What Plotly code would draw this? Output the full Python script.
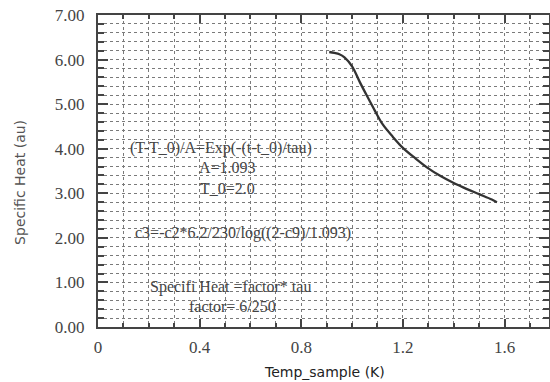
import plotly.graph_objects as go

temp_k = [0.91, 0.93, 0.95, 0.97, 1.00, 1.03, 1.06, 1.09, 1.12, 1.16, 1.20,
          1.25, 1.30, 1.35, 1.40, 1.45, 1.50, 1.55, 1.57]
specific_heat = [6.17, 6.15, 6.12, 6.05, 5.85, 5.50, 5.17, 4.85, 4.55, 4.27, 4.02,
                 3.78, 3.56, 3.38, 3.23, 3.10, 2.98, 2.86, 2.80]

note_texts = ["(T-T_0)/A=Exp(-(t-t_0)/tau)", "A=1.093", "T_0=2.0",
              "c3=-c2*6.2/230/log((2-c9)/1.093)", "Specifi Heat =factor* tau",
              "factor= 6/250"]
note_x = [0.486, 0.508, 0.51, 0.571, 0.52, 0.528]
note_y = [4.02, 3.57, 3.11, 2.11, 0.90, 0.47]

x_tickvals = [0, 0.4, 0.8, 1.2, 1.6]
x_ticktext = ["0", "0.4", "0.8", "1.2", "1.6"]

x_title = "Temp_sample (K)"
y_title = "Specific Heat (au)"

SERIF = "Liberation Serif"

fig = go.Figure()
fig.add_trace(go.Scatter(x=temp_k, y=specific_heat, mode="lines",
                         line=dict(color="#333333", width=2.3, shape="spline"),
                         showlegend=False, hoverinfo="skip"))

for t, xx, yy in zip(note_texts, note_x, note_y):
    fig.add_annotation(x=xx, y=yy, text=t, showarrow=False, xanchor="center",
                       yanchor="middle",
                       font=dict(family=SERIF, size=16, color="#444444"))

fig.add_annotation(xref="paper", yref="paper", x=0.503, y=-0.144, text=x_title,
                   showarrow=False, xanchor="center", yanchor="middle",
                   font=dict(family="DejaVu Sans", size=14, color="#222"))
fig.add_annotation(xref="paper", yref="paper", x=-0.173, y=0.465, text=y_title,
                   textangle=-90, showarrow=False, xanchor="center", yanchor="middle",
                   font=dict(family="DejaVu Sans", size=14, color="#555"))

grid_col = "#7a7a7a"
fig.update_xaxes(range=[0, 1.775], tickvals=x_tickvals, ticktext=x_ticktext,
                 ticks="inside", ticklen=8, tickwidth=2, tickcolor="#444",
                 showline=True, linecolor="#444", linewidth=2, mirror="ticks",
                 showgrid=True, gridcolor=grid_col, griddash="dot", gridwidth=1,
                 minor=dict(dtick=0.1, tick0=0, ticks="inside", ticklen=4,
                            tickcolor="#444", showgrid=True, gridcolor=grid_col,
                            griddash="dot", gridwidth=1),
                 tickfont=dict(family=SERIF, size=17, color="#444"),
                 ticklabelstandoff=4,
                 automargin=False, zeroline=False)
fig.update_yaxes(range=[0, 7], dtick=1, tick0=0, tickformat=".2f",
                 ticks="inside", ticklen=10, tickwidth=2, tickcolor="#444",
                 showline=True, linecolor="#444", linewidth=2, mirror="ticks",
                 showgrid=True, gridcolor=grid_col, griddash="dot", gridwidth=1,
                 minor=dict(dtick=0.2, tick0=0, ticks="inside", ticklen=6,
                            tickcolor="#444", showgrid=True, gridcolor=grid_col,
                            griddash="dot", gridwidth=1),
                 tickfont=dict(family=SERIF, size=17, color="#444"),
                 ticklabelstandoff=8,
                 automargin=False, zeroline=False)

fig.update_layout(width=550, height=382, margin=dict(l=98, r=1, t=15, b=55),
                  plot_bgcolor="white", paper_bgcolor="white")

fig.write_html("out.html", config={"displayModeBar": False},
               post_script="document.body.style.margin='0';document.body.style.overflow='hidden';")
